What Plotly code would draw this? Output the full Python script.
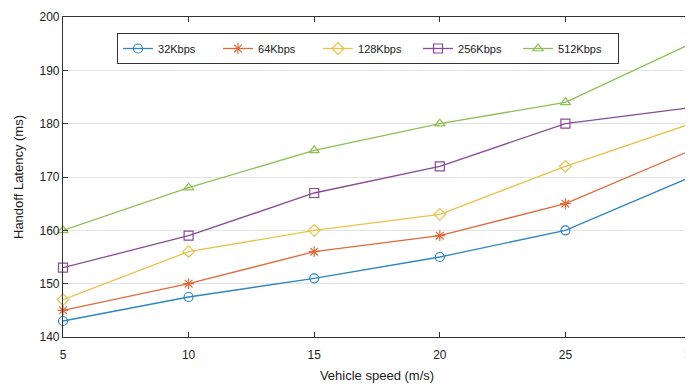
import plotly.graph_objects as go

speed = [5, 10, 15, 20, 25, 30]
lat_32 = [143, 147.5, 151, 155, 160, 170]
lat_64 = [145, 150, 156, 159, 165, 175]
lat_128 = [147, 156, 160, 163, 172, 180]
lat_256 = [153, 159, 167, 172, 180, 183]
lat_512 = [160, 168, 175, 180, 184, 195]
names = ["32Kbps", "64Kbps", "128Kbps", "256Kbps", "512Kbps"]

series = [lat_32, lat_64, lat_128, lat_256, lat_512]
colors = ["#2f86c0", "#de6a3a", "#e9c24a", "#8a4a97", "#8fbf55"]
symbols = ["circle-open", "asterisk-open", "diamond-open", "square-open", "triangle-up-open"]

fig = go.Figure()
for n, ys, c, s in zip(names, series, colors, symbols):
    fig.add_trace(go.Scatter(
        x=speed, y=ys, name=n, mode="lines+markers",
        line=dict(color=c, width=1.3),
        marker=dict(symbol=s, size=9, color=c, line=dict(color=c, width=1.2)),
        cliponaxis=False,
    ))

font = "Arial, Liberation Sans, sans-serif"
axis_common = dict(
    showline=True, linecolor="#333", linewidth=1.2, mirror="ticks",
    ticks="inside", ticklen=5, tickcolor="#333",
    tickfont=dict(family=font, size=12, color="#222"),
    zeroline=False, automargin=False, ticklabeloverflow="allow",
)
fig.update_xaxes(range=[5, 30], tickvals=speed, showgrid=False,
                 ticklabelstandoff=6,
                 title=dict(text="Vehicle speed (m/s)", standoff=10,
                            font=dict(family=font, size=13, color="#222")),
                 **axis_common)
fig.update_yaxes(range=[140, 200], tickvals=[140, 150, 160, 170, 180, 190, 200],
                 showgrid=True, gridcolor="#e4e4e4", gridwidth=1,
                 title=dict(text="Handoff Latency (ms)", standoff=12,
                            font=dict(family=font, size=13, color="#222")),
                 **axis_common)

fig.update_layout(
    width=685, height=380,
    margin=dict(l=55, r=2, t=9, b=51),
    paper_bgcolor="white", plot_bgcolor="white",
    showlegend=True,
    legend=dict(orientation="h", x=0.086, y=0.95, xanchor="left", yanchor="top",
                bordercolor="#333", borderwidth=1, bgcolor="white",
                font=dict(family=font, size=11, color="#222"),
                entrywidth=55, entrywidthmode="pixels", itemwidth=30),
)
fig.write_html("out.html")
